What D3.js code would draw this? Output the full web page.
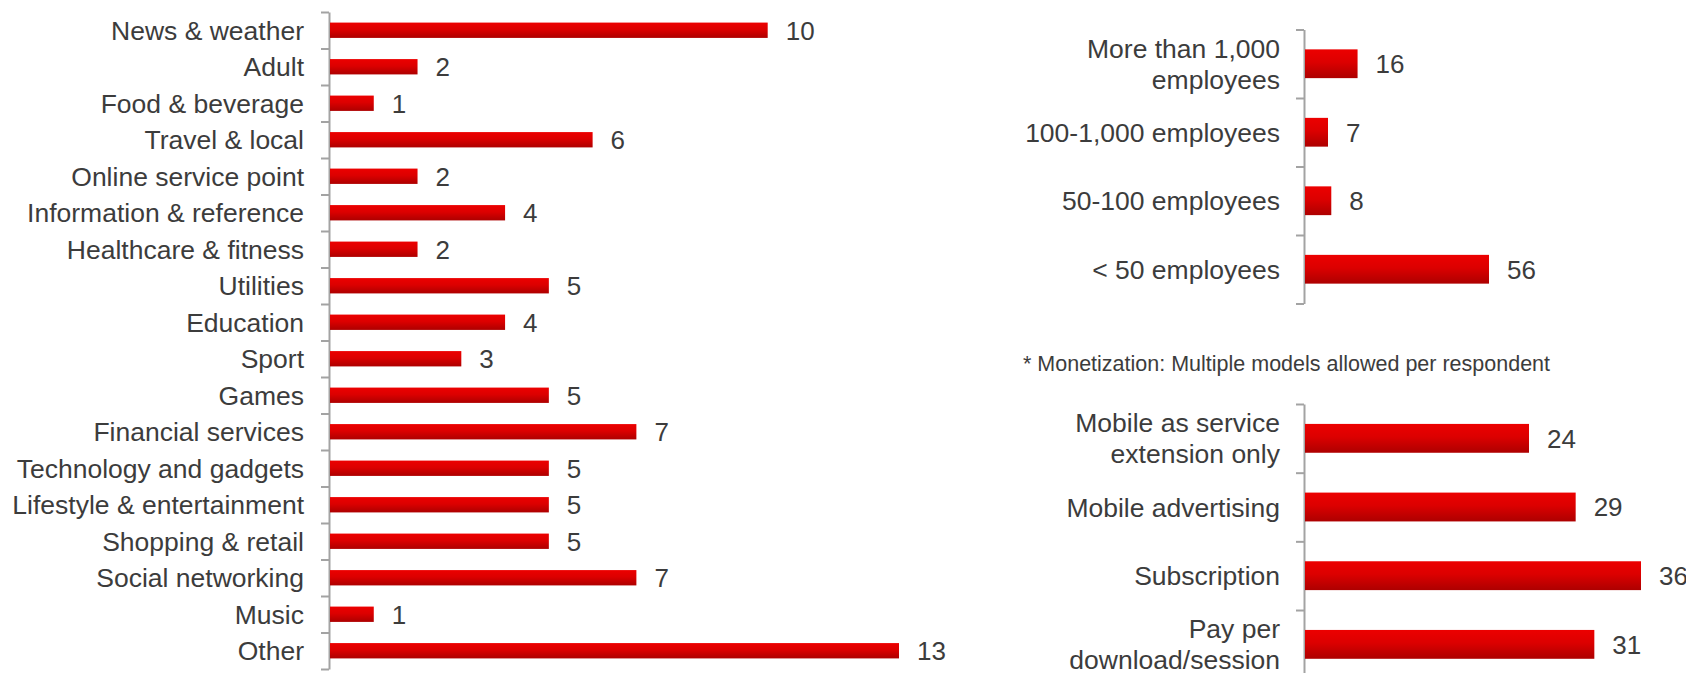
<!DOCTYPE html>
<html>
<head>
<meta charset="utf-8">
<script src="https://cdn.jsdelivr.net/npm/d3@7"></script>
<style>
  html, body { margin: 0; padding: 0; background: #ffffff; }
  svg { display: block; }
  text { font-family: "Liberation Sans", Arial, sans-serif; fill: #3c3c3c; }
</style>
</head>
<body>
<svg id="chart" width="1686" height="673"></svg>
<script>
// App categories
const categoryNames = [
  "News & weather", "Adult", "Food & beverage", "Travel & local",
  "Online service point", "Information & reference", "Healthcare & fitness",
  "Utilities", "Education", "Sport", "Games", "Financial services",
  "Technology and gadgets", "Lifestyle & entertainment", "Shopping & retail",
  "Social networking", "Music", "Other"
];
const categoryValues = [10, 2, 1, 6, 2, 4, 2, 5, 4, 3, 5, 7, 5, 5, 5, 7, 1, 13];

// Company size
const sizeNames = ["More than 1,000\nemployees", "100-1,000 employees", "50-100 employees", "< 50 employees"];
const sizeValues = [16, 7, 8, 56];

// Monetization models
const modelNames = ["Mobile as service\nextension only", "Mobile advertising", "Subscription", "Pay per\ndownload/session"];
const modelValues = [24, 29, 36, 31];

const footnote = "* Monetization: Multiple models allowed per respondent";

const svg = d3.select("#chart");

// Shared vertical bar gradient
const defs = svg.append("defs");
const grad = defs.append("linearGradient")
  .attr("id", "barFill").attr("x1", 0).attr("y1", 0).attr("x2", 0).attr("y2", 1);
grad.append("stop").attr("offset", "0%").attr("stop-color", "#ec0000");
grad.append("stop").attr("offset", "45%").attr("stop-color", "#dc0000");
grad.append("stop").attr("offset", "100%").attr("stop-color", "#ad0000");

function drawPanel(opts) {
  const { names, values, axisX, xRange, top, bottom, labelX } = opts;
  const n = names.length;
  const g = svg.append("g");

  const y = d3.scaleBand()
    .domain(names)
    .range([top, bottom])
    .paddingInner(0.58)
    .paddingOuter(0.29);

  const x = d3.scaleLinear()
    .domain([0, d3.max(values)])
    .range(xRange);

  // Category boundaries for the bracket-style axis
  const edge = d3.scaleLinear().domain([0, n]).range([top, bottom]);
  const axis = d3.axisLeft(edge)
    .tickValues(d3.range(n + 1))
    .tickSize(8)
    .tickSizeOuter(0)
    .tickFormat("");
  const ax = g.append("g")
    .attr("transform", `translate(${axisX},0)`)
    .call(axis);
  ax.select(".domain").attr("stroke", "#a3a3a3").attr("stroke-width", 2);
  ax.selectAll(".tick line").attr("stroke", "#a3a3a3").attr("stroke-width", 2);

  // Bars
  g.selectAll("rect.bar")
    .data(values)
    .join("rect")
    .attr("class", "bar")
    .attr("x", x(0))
    .attr("y", (d, i) => y(names[i]))
    .attr("width", d => x(d) - x(0))
    .attr("height", y.bandwidth())
    .attr("fill", "url(#barFill)");

  // Value labels
  g.selectAll("text.value")
    .data(values)
    .join("text")
    .attr("class", "value")
    .attr("x", d => x(d) + 18)
    .attr("y", (d, i) => y(names[i]) + y.bandwidth() / 2)
    .attr("dy", "0.36em")
    .attr("font-size", 26)
    .text(d => d);

  // Category labels (may wrap onto two lines)
  const lineH = 31;
  g.selectAll("text.cat")
    .data(names)
    .join("text")
    .attr("class", "cat")
    .attr("text-anchor", "end")
    .attr("font-size", 26.5)
    .each(function (d) {
      const lines = d.split("\n");
      const cy = y(d) + y.bandwidth() / 2;
      const t = d3.select(this);
      lines.forEach((ln, k) => {
        t.append("tspan")
          .attr("x", labelX)
          .attr("y", cy + (k - (lines.length - 1) / 2) * lineH)
          .attr("dy", "0.36em")
          .text(ln);
      });
    });
}

drawPanel({
  names: categoryNames, values: categoryValues,
  axisX: 329, xRange: [330, 899], top: 12, bottom: 669, labelX: 304
});

drawPanel({
  names: sizeNames, values: sizeValues,
  axisX: 1304, xRange: [1305, 1489], top: 29.5, bottom: 303.5, labelX: 1280
});

drawPanel({
  names: modelNames, values: modelValues,
  axisX: 1304, xRange: [1305, 1641], top: 404, bottom: 678.7, labelX: 1280
});

svg.append("text")
  .attr("x", 1023)
  .attr("y", 363.5)
  .attr("dy", "0.36em")
  .attr("font-size", 21.5)
  .text(footnote);
</script>
</body>
</html>
